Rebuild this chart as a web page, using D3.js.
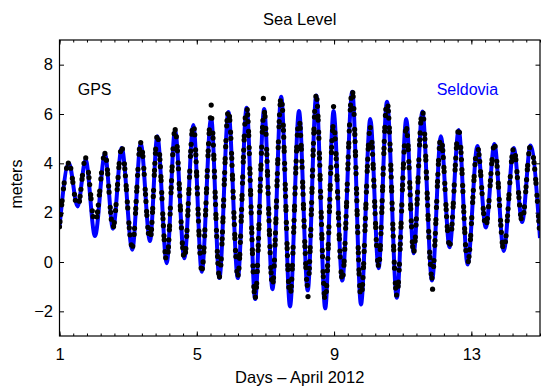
<!DOCTYPE html>
<html>
<head>
<meta charset="utf-8">
<script src="https://cdn.jsdelivr.net/npm/d3@7"></script>
<style>
body { margin: 0; background: #fff; }
svg text { font-family: "Liberation Sans", Arial, Helvetica, sans-serif; }
.axis path.domain { display: none; }
.axis line { stroke: #000; stroke-width: 1; }
</style>
</head>
<body>
<div id="chart"></div>
<script>
// times of high / low water (days, April 2012)
const tideDay = [1.00, 1.274, 1.528, 1.761, 2.033, 2.324, 2.558, 2.812, 3.121, 3.366,
	3.637, 3.850, 4.124, 4.366, 4.638, 4.900, 5.145, 5.417, 5.659, 5.921,
	6.196, 6.452, 6.700, 6.963, 7.205, 7.459, 7.716, 7.978, 8.232, 8.480,
	8.742, 8.985, 9.238, 9.530, 9.784, 10.055, 10.297, 10.542, 10.828, 11.105,
	11.318, 11.572, 11.855, 12.111, 12.365, 12.631, 12.890, 13.176, 13.421, 13.672,
	13.943, 14.235, 14.480, 14.722, 15.0];
// Seldovia tide gauge (meters)
const tideLevel = [1.43, 4.0, 2.25, 4.15, 1.05, 4.38, 1.35, 4.62, 0.5, 4.8,
	0.85, 5.1, -0.05, 5.35, 0.15, 5.55, -0.4, 5.85, -0.65, 6.08,
	-0.65, 6.25, -1.5, 6.2, -1.1, 6.7, -1.8, 6.12, -1.15, 6.75,
	-1.88, 6.12, -0.75, 6.9, -1.72, 5.8, -0.25, 6.5, -1.45, 5.8,
	0.35, 6.1, -0.75, 5.1, 0.6, 5.35, -0.1, 4.7, 1.4, 4.78,
	0.45, 4.62, 1.62, 4.72, 0.97];
// GPS buoy (meters), same turning times
const gpsLevel = [1.43, 4.02, 2.2, 4.22, 1.55, 4.4, 1.4, 4.64, 0.6, 4.84,
	0.85, 5.12, 0.0, 5.37, 0.15, 5.6, -0.35, 5.95, -0.6, 6.15,
	-0.55, 6.3, -1.45, 6.1, -0.95, 6.7, -1.4, 5.8, -1.0, 6.75,
	-1.55, 5.6, -0.7, 6.95, -1.45, 5.45, -0.15, 6.55, -1.35, 5.45,
	0.4, 6.15, -0.65, 5.08, 0.65, 5.37, -0.05, 4.67, 1.45, 4.77,
	0.5, 4.62, 1.65, 4.72, 0.97];
// stray GPS fixes
const outlierDay = [5.42, 6.94, 8.24, 8.985, 11.87];
const outlierLevel = [6.36, 6.63, -1.4, 6.3, -1.1];

const xTicks = [1, 5, 9, 13];
const yTicks = [-2, 0, 2, 4, 6, 8];

const width = 550, height = 389;
const plot = {left: 59.5, right: 540, top: 40, bottom: 336};

let x = d3.scaleLinear().domain([1, 15]).range([plot.left, plot.right]);
let y = d3.scaleLinear().domain([-3, 9]).range([plot.bottom, plot.top]);

let svg = d3.select('#chart').append('svg')
	.attr('width', width)
	.attr('height', height);

svg.append('clipPath').attr('id', 'clip')
	.append('rect')
	.attr('x', plot.left).attr('y', plot.top)
	.attr('width', plot.right - plot.left)
	.attr('height', plot.bottom - plot.top);

let line = d3.line()
	.x(function(d){ return x(d[0]); })
	.y(function(d){ return y(d[1]); })
	.curve(d3.curveMonotoneX);

let tide = tideDay.map(function(d, i){ return [d, tideLevel[i]]; });
let gps = tideDay.map(function(d, i){ return [d, gpsLevel[i]]; });

let g = svg.append('g').attr('clip-path', 'url(#clip)');

g.append('path')
	.datum(tide)
	.attr('d', line)
	.attr('fill', 'none')
	.attr('stroke', '#0000ff')
	.attr('stroke-width', 4);

// GPS fixes drawn as round dots along the track
g.append('path')
	.datum(gps)
	.attr('d', line)
	.attr('fill', 'none')
	.attr('stroke', '#000')
	.attr('stroke-width', 5.2)
	.attr('stroke-linecap', 'round')
	.attr('stroke-dasharray', '0 5 0 7 0 10 0 4 0 12 0 6 0 15');

g.selectAll('circle.out')
	.data(outlierDay).enter()
	.append('circle')
	.attr('class', 'out')
	.attr('cx', function(d){ return x(d); })
	.attr('cy', function(d, i){ return y(outlierLevel[i]); })
	.attr('r', 2.6)
	.attr('fill', '#000');

// axes, ticks pointing inward
let minor = d3.range(1, 15.01, 0.4);

svg.append('g').attr('class', 'axis')
	.attr('transform', 'translate(0,' + plot.bottom + ')')
	.call(d3.axisBottom(x).tickValues(minor).tickSize(-2.5).tickFormat(''));
svg.append('g').attr('class', 'axis')
	.attr('transform', 'translate(0,' + plot.bottom + ')')
	.call(d3.axisBottom(x).tickValues(xTicks).tickSize(-4.5).tickPadding(12.5))
	.selectAll('text').style('font-size', '16.5px').attr('fill', '#000');

svg.append('g').attr('class', 'axis')
	.attr('transform', 'translate(0,' + plot.top + ')')
	.call(d3.axisTop(x).tickValues(minor).tickSize(-2.5).tickFormat(''));
svg.append('g').attr('class', 'axis')
	.attr('transform', 'translate(0,' + plot.top + ')')
	.call(d3.axisTop(x).tickValues(xTicks).tickSize(-4.5).tickFormat(''));

svg.append('g').attr('class', 'axis')
	.attr('transform', 'translate(' + plot.left + ',0)')
	.call(d3.axisLeft(y).tickValues(yTicks).tickSize(-4.5).tickPadding(6.5))
	.selectAll('text').style('font-size', '16.5px').attr('fill', '#000');
svg.append('g').attr('class', 'axis')
	.attr('transform', 'translate(' + plot.right + ',0)')
	.call(d3.axisRight(y).tickValues(yTicks).tickSize(-4.5).tickFormat(''));

svg.append('rect')
	.attr('x', plot.left).attr('y', plot.top)
	.attr('width', plot.right - plot.left)
	.attr('height', plot.bottom - plot.top)
	.attr('fill', 'none')
	.attr('stroke', '#000')
	.attr('stroke-width', 1.2);

// labels
svg.append('text')
	.attr('x', (plot.left + plot.right) / 2).attr('y', 25)
	.attr('text-anchor', 'middle')
	.style('font-size', '16.5px')
	.text('Sea Level');

svg.append('text')
	.attr('x', (plot.left + plot.right) / 2).attr('y', 383)
	.attr('text-anchor', 'middle')
	.style('font-size', '16.5px')
	.text('Days \u2013 April 2012');

svg.append('text')
	.attr('transform', 'translate(22,' + ((plot.top + plot.bottom) / 2 - 4) + ')rotate(-90)')
	.attr('text-anchor', 'middle')
	.style('font-size', '16px')
	.text('meters');

svg.append('text')
	.attr('x', 77.7).attr('y', 95)
	.style('font-size', '16px')
	.attr('fill', '#000')
	.text('GPS');

svg.append('text')
	.attr('x', 436.7).attr('y', 95)
	.style('font-size', '16px')
	.attr('fill', '#0000ff')
	.text('Seldovia');
</script>
</body>
</html>
